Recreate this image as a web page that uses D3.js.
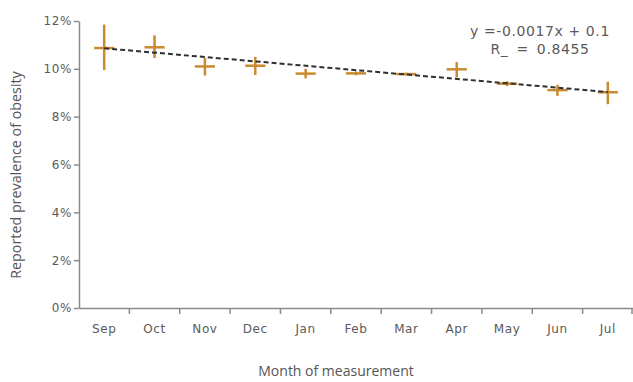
<!DOCTYPE html>
<html>
<head>
<meta charset="utf-8">
<script src="https://cdn.jsdelivr.net/npm/d3@7"></script>
<style>
    body { margin: 0; background: #fff; }
    svg { display: block; }
    .axis text { font-family: "DejaVu Sans", sans-serif; font-size: 12px; fill: #5a5a5a; letter-spacing: 0.6px; }
    .axis path, .axis line { stroke: #8a8a8a; stroke-width: 1.5; }
</style>
</head>
<body>
<svg id="chart"></svg>
<script>
// months and reported prevalence (fraction), with error bar extents
const months = ["Sep", "Oct", "Nov", "Dec", "Jan", "Feb", "Mar", "Apr", "May", "Jun", "Jul"];
const prevalence = [0.1087, 0.1090, 0.1010, 0.1013, 0.0980, 0.0981, 0.0978, 0.0998, 0.0938, 0.0911, 0.0902];
const errUp = [0.0098, 0.0050, 0.0036, 0.0037, 0.0020, 0.0008, 0.0006, 0.0030, 0.0010, 0.0022, 0.0044];
const errDown = [0.0092, 0.0045, 0.0038, 0.0039, 0.0020, 0.0008, 0.0006, 0.0034, 0.0010, 0.0024, 0.0050];
const yTicks = [0, 0.02, 0.04, 0.06, 0.08, 0.10, 0.12];
// trend line end values at Sep and Jul
const trendEnds = [0.1086, 0.0903];
const equationLines = ["y =-0.0017x + 0.1", "R_ = 0.8455"];

const width = 633, height = 382;
const margin = {top: 21, right: 0, bottom: 74, left: 79};

const svg = d3.select("#chart")
    .attr("width", width)
    .attr("height", height);

const x = d3.scaleBand()
    .domain(months)
    .range([margin.left, width - margin.right]);

const y = d3.scaleLinear()
    .domain([0, 0.12])
    .range([height - margin.bottom, margin.top]);

// Y axis
svg.append("g")
    .attr("class", "axis")
    .attr("transform", "translate(" + margin.left + ",0)")
    .call(d3.axisLeft(y).tickValues(yTicks).tickFormat(d3.format(".0%")).tickSize(5).tickSizeOuter(0).tickPadding(2));

// X axis: labels at band centres, tick marks at band boundaries
const xAxis = svg.append("g")
    .attr("class", "axis")
    .attr("transform", "translate(0," + y(0) + ")")
    .call(d3.axisBottom(x).tickSize(0).tickSizeOuter(0).tickPadding(16));

const bounds = months.slice(1).map(m => x(m)).concat([x.range()[1] - 1]);
xAxis.selectAll(".bound")
    .data(bounds)
    .enter()
    .append("line")
    .attr("class", "bound")
    .attr("x1", d => d).attr("x2", d => d)
    .attr("y1", 0).attr("y2", 6);

const cx = m => x(m) + x.bandwidth() / 2;
const halfW = x.bandwidth() * 0.2;

// error crosses
const crosses = svg.append("g")
    .attr("stroke", "#c98a30")
    .attr("stroke-width", 2.5);

months.forEach((m, i) => {
    crosses.append("line")
        .attr("x1", cx(m)).attr("x2", cx(m))
        .attr("y1", y(prevalence[i] + errUp[i]))
        .attr("y2", y(prevalence[i] - errDown[i]));
    crosses.append("line")
        .attr("x1", cx(m) - halfW).attr("x2", cx(m) + halfW)
        .attr("y1", y(prevalence[i])).attr("y2", y(prevalence[i]));
});

// linear trend line
svg.append("line")
    .attr("x1", cx(months[0]))
    .attr("x2", cx(months[months.length - 1]))
    .attr("y1", y(trendEnds[0]))
    .attr("y2", y(trendEnds[1]))
    .attr("stroke", "#2f2f2f")
    .attr("stroke-width", 2)
    .attr("stroke-dasharray", "5,3");

// equation annotation
svg.append("g")
    .selectAll("text")
    .data(equationLines)
    .enter()
    .append("text")
    .attr("x", 540)
    .attr("y", (d, i) => 36 + i * 18)
    .attr("text-anchor", "middle")
    .attr("font-family", "DejaVu Sans, sans-serif")
    .attr("font-size", 14)
    .attr("letter-spacing", 0.6)
    .attr("word-spacing", (d, i) => i === 1 ? 3 : 0)
    .attr("fill", "#5a5a5a")
    .text(d => d);

// axis titles
svg.append("text")
    .attr("x", 336)
    .attr("y", 376)
    .attr("text-anchor", "middle")
    .attr("font-family", "Open Sans, sans-serif")
    .attr("font-size", 14)
    .attr("fill", "#555")
    .text("Month of measurement");

svg.append("text")
    .attr("transform", "translate(21," + 175 + ") rotate(-90)")
    .attr("text-anchor", "middle")
    .attr("font-family", "Open Sans, sans-serif")
    .attr("font-size", 14.3)
    .attr("fill", "#555")
    .text("Reported prevalence of obesity");
</script>
</body>
</html>
